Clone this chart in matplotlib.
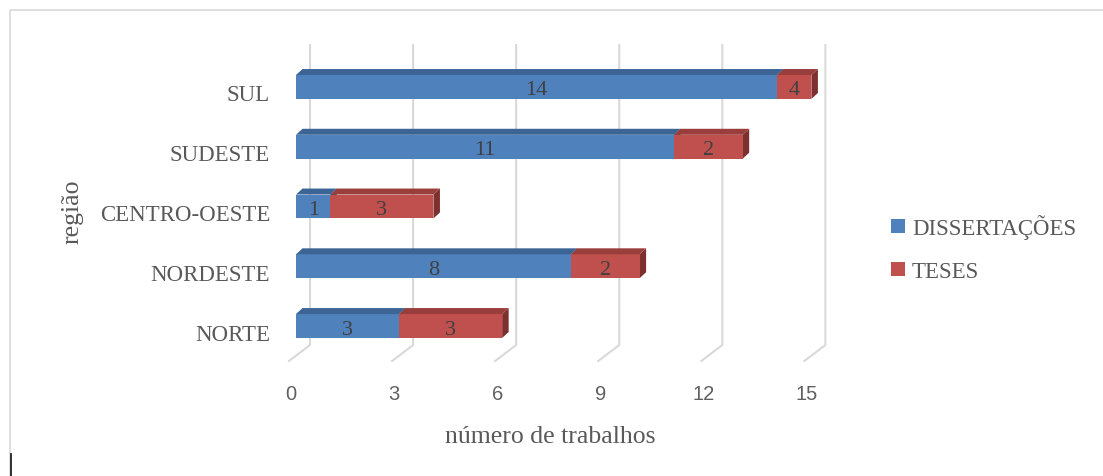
import matplotlib.pyplot as plt
from matplotlib.patches import Polygon, Patch
from matplotlib.lines import Line2D

# trabalhos por região
regioes = ['NORTE', 'NORDESTE', 'CENTRO-OESTE', 'SUDESTE', 'SUL']
dissertacoes = [3, 8, 1, 11, 14]
teses = [3, 2, 3, 2, 4]
xticks = [0, 3, 6, 9, 12, 15]

azul, azul_topo, azul_lado = '#4F81BD', '#3C6596', '#345886'
verm, verm_topo, verm_lado = '#C0504D', '#9A3E3C', '#7E302E'
cinza_grade = '#D9D9D9'
cinza_texto = '#595959'

W, H = 1103, 477
fig = plt.figure(figsize=(W / 100, H / 100), dpi=100)
fig.patch.set_facecolor('white')

# eixo: x de 0 a 15, categorias de -0.5 a 4.5 (em pixels da figura)
x0, x1 = 296, 811.4
y_top, y_bot = 58.1, 356.9
ax = fig.add_axes([x0 / W, (H - y_bot) / H, (x1 - x0) / W, (y_bot - y_top) / H])
xmax = 15
ax.set_xlim(0, xmax)
ax.set_ylim(-0.5, 4.5)
ax.axis('off')

# conversão de pixels para unidades de dados
px = xmax / (x1 - x0)
py = 5 / (y_bot - y_top)

def ypix(p):
    # linha de pixel (a partir do topo) -> coordenada y
    return 4.5 - (p - y_top) * py

# grade 3D: parede do fundo + linhas do piso
for v in xticks:
    xb = v + 14 * px
    xf = v - 7 * px
    ax.add_line(Line2D([xb, xb, xf], [ypix(46), ypix(346), ypix(362)],
                       color=cinza_grade, lw=1.5, clip_on=False, zorder=1))
    ax.text(xf + 2 * px, ypix(395), str(v), ha='center', va='center',
            fontsize=14.5, color='#606060', family='Liberation Sans')

alt = 0.4
dx, dy = 6.5 * px, 6 * py

def barra3d(y, left, w, cor, topo, lado):
    ax.barh(y, w, left=left, height=alt, color=cor, edgecolor='none', zorder=3)
    fim = min(left + w, xmax)
    yt = y + alt / 2
    yb = y - alt / 2
    ax.add_patch(Polygon([(left, yt), (fim, yt), (fim + dx, yt + dy), (left + dx, yt + dy)],
                         closed=True, facecolor=topo, edgecolor='none', clip_on=False, zorder=3))
    ax.add_patch(Polygon([(fim, yb), (fim, yt), (fim + dx, yt + dy), (fim + dx, yb + dy)],
                         closed=True, facecolor=lado, edgecolor='none', clip_on=False, zorder=2.9))
    return (left + fim) / 2

for i, nome in enumerate(regioes):
    d, t = dissertacoes[i], teses[i]
    cx = barra3d(i, 0, d, azul, azul_topo, azul_lado)
    ax.text(cx, i - 3 * py, str(d), ha='center', va='center', fontsize=16,
            color='#404040', family='Liberation Serif', zorder=5)
    cx = barra3d(i, d, t, verm, verm_topo, verm_lado)
    ax.text(cx, i - 3 * py, str(t), ha='center', va='center', fontsize=16,
            color='#404040', family='Liberation Serif', zorder=5)
    ax.text(-26 * px, i - 8 * py, nome, ha='right', va='center', fontsize=16.5,
            color=cinza_texto, family='Liberation Serif')

ax.text(7.5 - 3 * px, ypix(437), 'número de trabalhos', ha='center', va='center',
        fontsize=18.5, color=cinza_texto, family='Liberation Serif')
fig.text(73 / W, 1 - 212 / H, 'região', rotation=90, ha='center', va='center',
         fontsize=18.5, color=cinza_texto, family='Liberation Serif')

handles = [Patch(facecolor=azul, edgecolor='none'), Patch(facecolor=verm, edgecolor='none')]
leg = fig.legend(handles, ['DISSERTAÇÕES', 'TESES'], loc='center left',
                 bbox_to_anchor=(880 / W, 1 - 249 / H), frameon=False,
                 prop={'family': 'Liberation Serif', 'size': 16.5},
                 handlelength=0.6, handleheight=0.6, handletextpad=0.3,
                 labelspacing=0.95, borderpad=0)
for t in leg.get_texts():
    t.set_color(cinza_texto)

# moldura clara do gráfico
fig.add_artist(Line2D([10 / W, 10 / W, 1], [0, 1 - 11 / H, 1 - 11 / H],
                      color='#D9D9D9', lw=1.2))
fig.add_artist(Line2D([11 / W, 11 / W], [0, 1 - 455 / H], color='#222222', lw=1.3))

fig.savefig('out.png', dpi=100)
